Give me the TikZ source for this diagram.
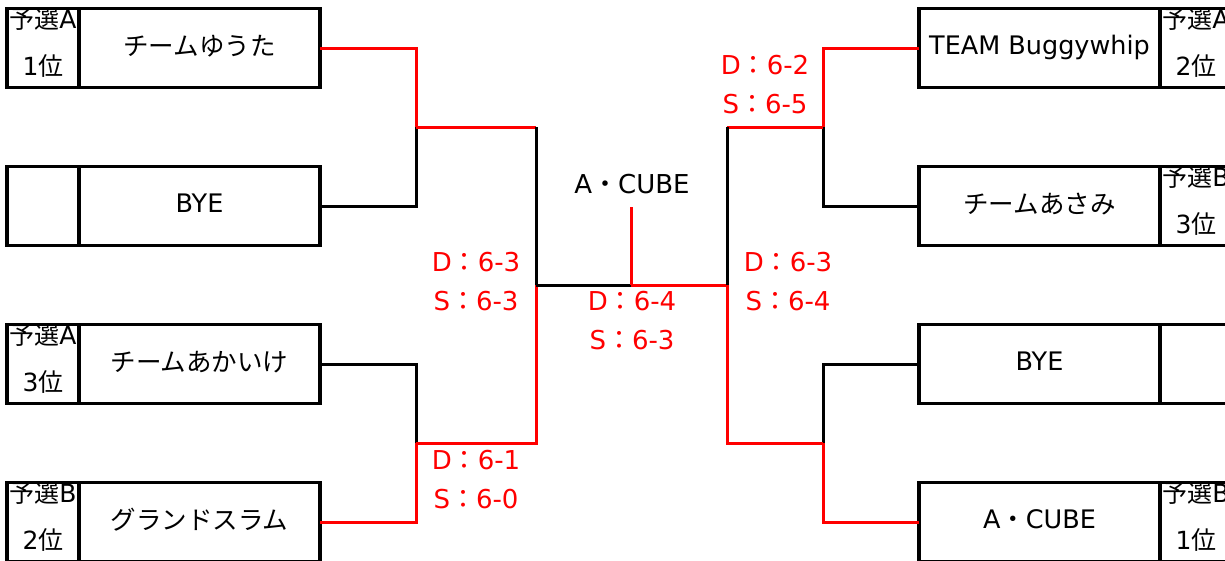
\documentclass[tikz,border=0pt]{standalone}
\usepackage{fontspec}
\setmainfont{DejaVu Sans}
\newfontfamily\jp{Noto Sans CJK JP}
\newcommand{\sco}[2]{#1{\jp ：}#2}
\newcommand{\up}[1]{\raisebox{6pt}{#1}}
\begin{document}
\begin{tikzpicture}[x=1pt,y=-1pt]
\tikzset{
  box/.style={draw, line width=3.2pt, inner sep=0pt, outer sep=0pt, minimum height=79pt},
  team/.style={box, minimum width=241pt, font=\fontsize{25.5}{30}\selectfont},
  seed/.style={box, minimum width=72pt},
  seedtxt/.style={align=center, inner sep=0pt, font=\fontsize{25}{43}\selectfont},
  win/.style={draw=red, line width=3pt},
  lose/.style={draw=black, line width=3pt},
  score/.style={text=red, align=center, font=\fontsize{26}{39}\selectfont, inner sep=0pt}
}
\fill[white] (0,0) rectangle (1225,560);
\useasboundingbox (0,0) rectangle (1225,560);
\clip (0,0) rectangle (1225,560);
% left side
\node[seed] (L1s) at (43,48) {};
\node[team] (L1) at (199.5,48) {\up{\jp チームゆうた}};
\node[seed] (L2s) at (43,206) {};
\node[team] (L2) at (199.5,206) {\up{BYE}};
\node[seed] (L3s) at (43,364) {};
\node[team] (L3) at (199.5,364) {\up{\jp チームあかいけ}};
\node[seed] (L4s) at (43,522) {};
\node[team] (L4) at (199.5,522) {\up{\jp グランドスラム}};
% right side
\node[team] (R1) at (1039.5,48) {\up{TEAM Buggywhip}};
\node[seed] (R1s) at (1196,48) {};
\node[team] (R2) at (1039.5,206) {\up{\jp チームあさみ}};
\node[seed] (R2s) at (1196,206) {};
\node[team] (R3) at (1039.5,364) {\up{BYE}};
\node[seed] (R3s) at (1196,364) {};
\node[team] (R4) at (1039.5,522) {\up{A{\jp ・}CUBE}};
\node[seed] (R4s) at (1196,522) {};
% seed texts
\node[seedtxt] (L1t) at ([yshift=5pt]L1s.center) {{\jp 予選}A\\[4pt]1{\jp 位}};
\node[seedtxt] (L3t) at ([yshift=5pt]L3s.center) {{\jp 予選}A\\[4pt]3{\jp 位}};
\node[seedtxt] (L4t) at ([yshift=5pt]L4s.center) {{\jp 予選}B\\[4pt]2{\jp 位}};
\node[seedtxt] (R1t) at ([yshift=5pt]R1s.center) {{\jp 予選}A\\[4pt]2{\jp 位}};
\node[seedtxt] (R2t) at ([yshift=5pt]R2s.center) {{\jp 予選}B\\[4pt]3{\jp 位}};
\node[seedtxt] (R4t) at ([yshift=5pt]R4s.center) {{\jp 予選}B\\[4pt]1{\jp 位}};
% junctions
\coordinate (jL1) at (416,127);
\coordinate (jL2) at (416,443);
\coordinate (qL1) at (536,127);
\coordinate (qL2) at (536,443);
\coordinate (sL) at (536,285);
\coordinate (F) at (631,285);
\coordinate (T) at (631,207);
\coordinate (sR) at (727,285);
\coordinate (qR1) at (727,127);
\coordinate (qR2) at (727,443);
\coordinate (jR1) at (823,127);
\coordinate (jR2) at (823,443);
% connectors
\path[win] (L1.east) -| (jL1);
\path[lose] (L2.east) -| (jL1);
\path[lose] (L3.east) -| (jL2);
\path[win] (L4.east) -| (jL2);
\path[win] (jL1) -- (qL1);
\path[lose] (qL1) -- (sL);
\path[win] (jL2) -- (qL2) -- (sL);
\path[lose] (sL) -- (F);
\path[win] (F) -- (sR);
\path[win] (F) -- (T);
\path[win] (R1.west) -| (jR1);
\path[lose] (R2.west) -| (jR1);
\path[lose] (R3.west) -| (jR2);
\path[win] (R4.west) -| (jR2);
\path[win] (jR1) -- (qR1);
\path[lose] (qR1) -- (sR);
\path[win] (jR2) -- (qR2) -- (sR);
% labels
\node[font=\fontsize{26}{30}\selectfont, inner sep=0pt] (champ) at (632,184) {A{\jp ・}CUBE};
\node[score] (s1) at (476,282) {\sco{D}{6-3}\\\sco{S}{6-3}};
\node[score] (s2) at (476,480) {\sco{D}{6-1}\\\sco{S}{6-0}};
\node[score] (s3) at (632,321) {\sco{D}{6-4}\\\sco{S}{6-3}};
\node[score] (s4) at (788,282) {\sco{D}{6-3}\\\sco{S}{6-4}};
\node[score] (s5) at (765,85) {\sco{D}{6-2}\\\sco{S}{6-5}};
\end{tikzpicture}
\end{document}
